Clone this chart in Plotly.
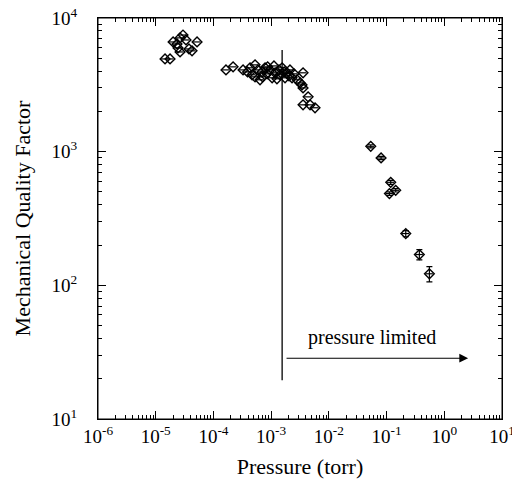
import math
import plotly.graph_objects as go

# Low-pressure cluster
p1 = [1.45e-5, 1.77e-5, 2.97e-5, 2.64e-5, 3.35e-5, 2.0e-5, 2.34e-5, 2.44e-5, 2.64e-5, 3.77e-5, 4.26e-5, 5.2e-5]
q1 = [4940, 4940, 7460, 7100, 6850, 6620, 6400, 5970, 5570, 5870, 5680, 6620]

# Mid-pressure cluster
p2 = [1.65e-4, 2.19e-4, 3.26e-4, 3.9e-4, 5.26e-4, 5.26e-4, 7.1e-4, 8.7e-4,
      4.31e-4, 4.67e-4, 5.93e-4, 6.42e-4, 6.95e-4, 7.84e-4, 8.49e-4, 9.57e-4,
      1.04e-3, 1.12e-3, 1.17e-3, 1.26e-3, 1.37e-3, 1.43e-3, 1.55e-3, 1.68e-3,
      1.74e-3, 1.89e-3, 2.04e-3, 2.12e-3, 2.30e-3, 2.49e-3, 2.81e-3, 3.17e-3,
      3.57e-3, 3.44e-3, 3.57e-3, 4.37e-3, 3.57e-3, 4.72e-3, 5.76e-3]
q2 = [4090, 4310, 4090, 3950, 4460, 3630, 3630, 4310,
      4240, 3760, 4090, 3450, 3950, 4240, 3820, 4090,
      3570, 4380, 3890, 3510, 4090, 3760, 4240, 3950,
      3570, 3890, 3690, 4090, 3570, 3820, 3450, 3270,
      3890, 3160, 3000, 2570, 2240, 2240, 2130]

# High-pressure points with error bars
p3 = [0.0532, 0.0803, 0.118, 0.112, 0.144, 0.215, 0.370, 0.552]
q3 = [1097, 897, 590, 486, 514, 244, 170, 122]
q3_err = [30, 25, 20, 15, 15, 13, 15, 16]

x_tickvals = [1e-6, 1e-5, 1e-4, 1e-3, 1e-2, 1e-1, 1e0, 1e1]
x_ticktext = ["10<sup>-6</sup>", "10<sup>-5</sup>", "10<sup>-4</sup>", "10<sup>-3</sup>",
              "10<sup>-2</sup>", "10<sup>-1</sup>", "10<sup>0</sup>", "10<sup>1</sup>"]
y_tickvals = [1e1, 1e2, 1e3, 1e4]
y_ticktext = ["10<sup>1</sup>", "10<sup>2</sup>", "10<sup>3</sup>", "10<sup>4</sup>"]

limit_pressure = 1.55e-3
limit_line_q = [19.5, 5770]
arrow_start_p = 1.74e-3
arrow_end_p = 2.59
arrow_q = 28.5
label_p = 0.056
label_q = 41

FONT = "Liberation Serif"

marker = dict(symbol="diamond-open", size=7.5, color="black", line=dict(width=1.4, color="black"))
errx = dict(type="percent", value=15, width=0, thickness=1.2, color="black")

fig = go.Figure()
fig.add_trace(go.Scatter(x=p1 + p2, y=q1 + q2, mode="markers", marker=marker,
                         error_x=errx, showlegend=False))
fig.add_trace(go.Scatter(x=p3, y=q3, mode="markers", marker=marker, error_x=errx,
                         error_y=dict(type="data", array=q3_err, width=3, thickness=1.2, color="black"),
                         showlegend=False))
fig.add_trace(go.Scatter(x=[limit_pressure, limit_pressure], y=limit_line_q, mode="lines",
                         line=dict(color="black", width=1.3), showlegend=False))

fig.add_annotation(x=math.log10(arrow_end_p), y=math.log10(arrow_q),
                   ax=math.log10(arrow_start_p), ay=math.log10(arrow_q),
                   xref="x", yref="y", axref="x", ayref="y",
                   showarrow=True, arrowhead=2, arrowsize=1.6, arrowwidth=1.1, arrowcolor="black", text="")
fig.add_annotation(x=math.log10(label_p), y=math.log10(label_q), xref="x", yref="y",
                   text="pressure limited", showarrow=False,
                   font=dict(family=FONT, size=20, color="black"))

fig.add_shape(type="rect", xref="paper", yref="paper", x0=0, x1=1, y0=0, y1=1,
              line=dict(color="black", width=1), fillcolor="rgba(0,0,0,0)", layer="above")

axis_common = dict(type="log", showgrid=False, zeroline=False, showline=True, linecolor="black",
                   linewidth=1, mirror="ticks", ticks="inside", ticklen=8, tickcolor="black",
                   automargin=False, ticklabeloverflow="allow",
                   tickfont=dict(family=FONT, size=19, color="black"),
                   minor=dict(ticks="inside", ticklen=4, tickcolor="black", dtick="D1", showgrid=False))

fig.update_xaxes(**axis_common, range=[-6, 1], tickvals=x_tickvals, ticktext=x_ticktext,
                 title=dict(text="Pressure (torr)", font=dict(family=FONT, size=22, color="black"), standoff=12))
fig.update_yaxes(**axis_common, range=[1, 4], tickvals=y_tickvals, ticktext=y_ticktext,
                 ticklabelstandoff=16,
                 title=dict(text="Mechanical Quality Factor", font=dict(family=FONT, size=22, color="black"), standoff=14))

fig.update_layout(width=512, height=489, margin=dict(l=98, r=10, t=18, b=70),
                  paper_bgcolor="white", plot_bgcolor="white")

fig.write_html("out.html", config={"displayModeBar": False},
               post_script="document.body.style.margin='0';")
